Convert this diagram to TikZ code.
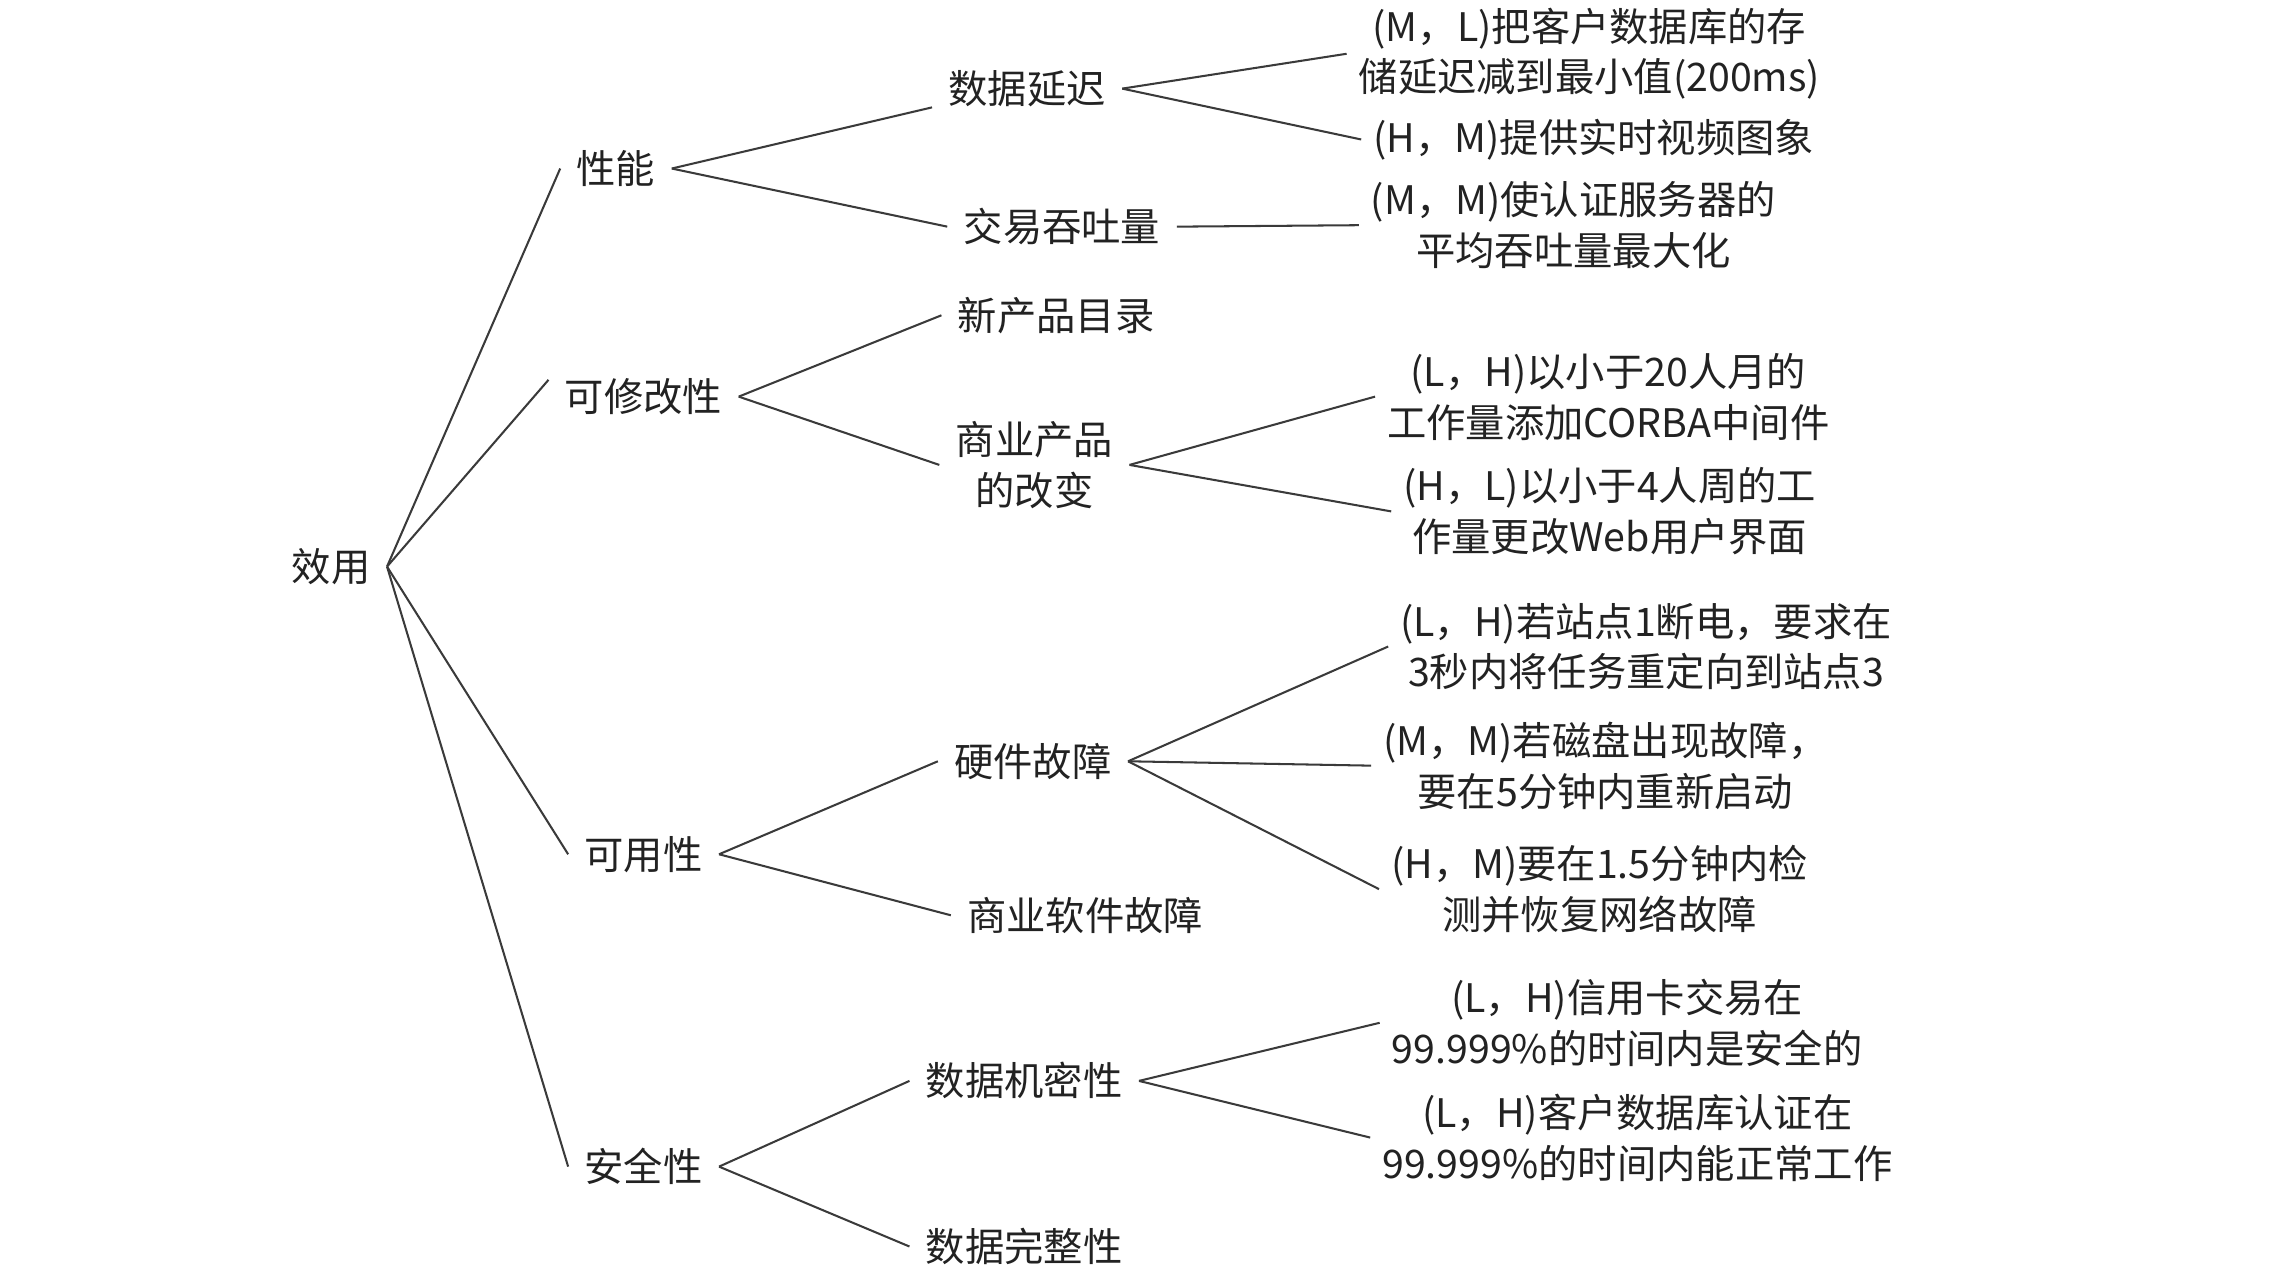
\documentclass[tikz,border=0pt]{standalone}
\usepackage{fontspec}
\setmainfont{Noto Sans CJK SC}
\definecolor{TreeInk}{HTML}{222222}
\definecolor{TreeLine}{HTML}{3A3A3A}

\begin{document}
\begin{tikzpicture}[x=0.02cm,y=-0.02cm,
  attr/.style={inner xsep=0.22cm,inner ysep=0pt,align=center,text=TreeInk,font=\fontsize{15.4pt}{19.9pt}\selectfont},
  scen/.style={attr,inner xsep=0.16cm},
  branch/.style={draw=TreeLine,line width=0.8pt}
]
\useasboundingbox[fill=white] (0,0) rectangle (1568,880);

\node[attr] (util) at (228,390) {效用};
\node[attr] (perf) at (424,116) {性能};
\node[attr] (modif) at (443,273) {可修改性};
\node[attr] (avail) at (443,588) {可用性};
\node[attr] (secur) at (443,803) {安全性};

\node[attr] (latency) at (707,61) {数据延迟};
\node[attr] (thruput) at (731,156) {交易吞吐量};
\node[attr] (catalog) at (727,217) {新产品目录};
\node[attr] (cotschg) at (712,320) {商业产品\\的改变};
\node[attr] (hwfail) at (711,524) {硬件故障};
\node[attr] (cotsfail) at (747,630) {商业软件故障};
\node[attr] (confid) at (705,744) {数据机密性};
\node[attr] (integ) at (705,858) {数据完整性};

\node[scen] (latstore) at (1094,37) {(M，L)把客户数据库的存\\储延迟减到最小值(200ms)};
\node[scen] (video) at (1097,96) {(H，M)提供实时视频图象};
\node[scen] (authsrv) at (1083,155) {(M，M)使认证服务器的\\平均吞吐量最大化};
\node[scen] (corba) at (1107,273) {(L，H)以小于20人月的\\工作量添加CORBA中间件};
\node[scen] (webui) at (1108,352) {(H，L)以小于4人周的工\\作量更改Web用户界面};
\node[scen] (powerout) at (1133,445) {(L，H)若站点1断电，要求在\\3秒内将任务重定向到站点3};
\node[scen] (diskfail) at (1105,527) {(M，M)若磁盘出现故障，\\要在5分钟内重新启动};
\node[scen] (netfail) at (1101,612) {(H，M)要在1.5分钟内检\\测并恢复网络故障};
\node[scen] (card) at (1120,704) {(L，H)信用卡交易在\\99.999\%的时间内是安全的};
\node[scen] (custdb) at (1127,783) {(L，H)客户数据库认证在\\99.999\%的时间内能正常工作};

\draw[branch] (util.east) -- (perf.west);
\draw[branch] (util.east) -- (modif.170);
\draw[branch] (util.east) -- (avail.west);
\draw[branch] (util.east) -- (secur.west);

\draw[branch] (perf.east) -- (latency.south west);
\draw[branch] (perf.east) -- (thruput.west);
\draw[branch] (modif.east) -- (catalog.west);
\draw[branch] (modif.east) -- (cotschg.west);
\draw[branch] (avail.east) -- (hwfail.west);
\draw[branch] (avail.east) -- (cotsfail.west);
\draw[branch] (secur.east) -- (confid.west);
\draw[branch] (secur.east) -- (integ.west);

\draw[branch] (latency.east) -- (latstore.west);
\draw[branch] (latency.east) -- (video.west);
\draw[branch] (thruput.east) -- (authsrv.west);
\draw[branch] (cotschg.east) -- (corba.west);
\draw[branch] (cotschg.east) -- (webui.west);
\draw[branch] (hwfail.east) -- (powerout.west);
\draw[branch] (hwfail.east) -- (diskfail.west);
\draw[branch] (hwfail.east) -- (netfail.west);
\draw[branch] (confid.east) -- (card.west);
\draw[branch] (confid.east) -- (custdb.west);
\end{tikzpicture}
\end{document}
